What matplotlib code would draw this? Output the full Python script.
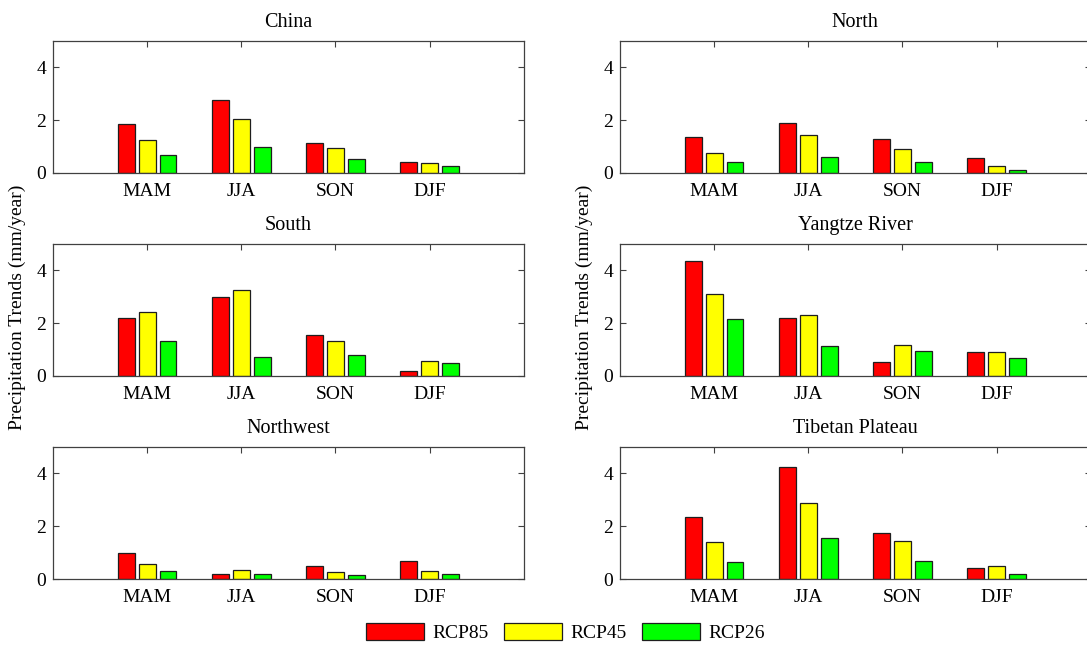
import numpy as np
import matplotlib
matplotlib.use('Agg')
import matplotlib.pyplot as plt
from matplotlib.patches import Patch

plt.rcParams['font.family'] = ['Liberation Serif', 'DejaVu Serif']
plt.rcParams['font.size'] = 14
plt.rcParams['axes.titlesize'] = 14.5

estaciones = ['MAM', 'JJA', 'SON', 'DJF']
escenarios = ['RCP85', 'RCP45', 'RCP26']
colores = ['#ff0000', '#ffff00', '#00ff00']

# tendencias por region: filas RCP85, RCP45, RCP26; columnas MAM, JJA, SON, DJF
china = [[1.85, 2.76, 1.14, 0.41],
         [1.24, 2.03, 0.95, 0.38],
         [0.70, 0.97, 0.54, 0.25]]
north = [[1.35, 1.89, 1.29, 0.58],
         [0.76, 1.43, 0.92, 0.27],
         [0.43, 0.62, 0.42, 0.13]]
south = [[2.21, 2.98, 1.54, 0.20],
         [2.41, 3.27, 1.31, 0.56],
         [1.34, 0.73, 0.81, 0.49]]
yangtze = [[4.37, 2.20, 0.53, 0.91],
           [3.12, 2.31, 1.16, 0.91],
           [2.16, 1.12, 0.95, 0.69]]
northwest = [[0.98, 0.18, 0.49, 0.69],
             [0.58, 0.35, 0.26, 0.32],
             [0.29, 0.18, 0.15, 0.18]]
tibet = [[2.36, 4.25, 1.75, 0.42],
         [1.40, 2.88, 1.44, 0.49],
         [0.63, 1.54, 0.67, 0.20]]

regiones = ['China', 'North', 'South', 'Yangtze River', 'Northwest', 'Tibetan Plateau']
datos = [china, north, south, yangtze, northwest, tibet]

ylabel = 'Precipitation Trends (mm/year)'

def dibujar_panel(ax, titulo, valores):
    x = np.arange(1, len(estaciones) + 1)
    ancho_grupo = 3 / 4.5
    paso = ancho_grupo / 3
    for i, serie in enumerate(valores):
        ax.bar(x + (i - 1) * paso, serie, width=paso * 0.8, color=colores[i],
               edgecolor='#1e1e1e', linewidth=0.9, zorder=2)
    ax.set_xlim(0, 5)
    ax.set_ylim(0, 5)
    ax.set_xticks(x)
    ax.set_xticklabels(estaciones)
    ax.set_yticks([0, 2, 4])
    ax.tick_params(direction='in', top=True, right=True, length=4,
                   width=0.8, color='#404040')
    ax.tick_params(axis='x', pad=7)
    ax.tick_params(axis='y', pad=5)
    for s in ax.spines.values():
        s.set_color('#404040')
        s.set_linewidth(0.9)
    ax.set_title(titulo, pad=10)

fig = plt.figure(figsize=(10.87, 6.46), dpi=100)

# posiciones de los ejes (fracciones de figura)
izq = [0.0488, 0.5704]
ancho = 0.4330
abajo = [0.7322, 0.418, 0.1037]
alto = 0.2043

ejes = []
for k, (titulo, valores) in enumerate(zip(regiones, datos)):
    fila, col = divmod(k, 2)
    ax = fig.add_axes([izq[col], abajo[fila], ancho, alto])
    dibujar_panel(ax, titulo, valores)
    ejes.append(ax)

# etiqueta vertical solo en la fila central
for ax in ejes[2:4]:
    ax.set_ylabel(ylabel)
    ax.yaxis.set_label_coords(-0.058, 0.52)

handles = [Patch(facecolor=c, edgecolor='#1e1e1e', linewidth=0.9) for c in colores]
fig.legend(handles, escenarios, loc='center', bbox_to_anchor=(0.52, 0.021),
           ncol=3, frameon=False, handlelength=3.0, handleheight=1.0,
           handletextpad=0.4, columnspacing=0.8)

fig.savefig('out.png', dpi=100)
